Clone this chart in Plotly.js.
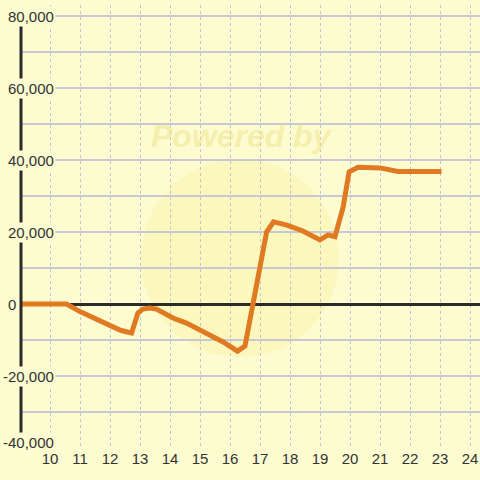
<!DOCTYPE html>
<html>
<head>
<meta charset="utf-8">
<script src="https://cdn.plot.ly/plotly-3.0.1.min.js"></script>
<style>html,body{margin:0;padding:0;background:#fcfcd0;}#chart{width:480px;height:480px;}</style>
</head>
<body>
<div id="chart"></div>
<script>
const xValues = [9.04, 10.55, 11.0, 11.5, 12.0, 12.35, 12.72, 12.93, 13.1, 13.33, 13.55, 14.1, 14.55, 15.2, 15.77, 16.25, 16.5, 17.22, 17.45, 17.9, 18.43, 19.0, 19.27, 19.5, 19.77, 19.97, 20.27, 21.0, 21.25, 21.6, 23.05];
const yValues = [0, 0, -2100, -3900, -5800, -7300, -8050, -2500, -1400, -1100, -1400, -3900, -5300, -8050, -10550, -13100, -11650, 20000, 22800, 21900, 20300, 17800, 19200, 18700, 26900, 36700, 38000, 37800, 37500, 36800, 36800];
const xTicks = [10, 11, 12, 13, 14, 15, 16, 17, 18, 19, 20, 21, 22, 23, 24];
const yTickValues = [80000, 60000, 40000, 20000, 0, -20000, -40000];
const yTickLabels = ['80,000', '60,000', '40,000', '20,000', '0', '-20,000', '-40,000'];

const bg = '#fcfcd0';

const annotations = yTickValues.map((v, i) => ({
  x: v < 0 ? (1 - 21) / 459 : (6 - 21) / 459, y: v, xref: 'paper', yref: 'y',
  xanchor: 'left', yanchor: 'middle',
  text: yTickLabels[i], showarrow: false,
  font: {family: 'Liberation Sans, Arial, sans-serif', size: 15, color: '#333'},
  bgcolor: bg, borderpad: 1,
  yshift: v === -40000 ? 6 : 0
}));
annotations.unshift({
  x: 0.481, y: 0.705, xref: 'paper', yref: 'paper', xanchor: 'center', yanchor: 'middle',
  text: 'Powered by', showarrow: false,
  font: {family: 'Liberation Sans, Arial, sans-serif', size: 32, color: 'rgba(238,222,130,0.45)', weight: 'bold', style: 'italic'}
});

const trace = {
  x: xValues, y: yValues, type: 'scatter', mode: 'lines',
  line: {color: '#e07a22', width: 5},
  hoverinfo: 'skip'
};

const layout = {
  width: 480, height: 480,
  margin: {l: 21, r: 0, t: 5, b: 32, pad: 0},
  paper_bgcolor: bg, plot_bgcolor: bg,
  showlegend: false,
  xaxis: {
    range: [9.0333, 24.3333], tickvals: xTicks, ticktext: xTicks.map(String),
    showgrid: true, gridcolor: '#c4c4cc', gridwidth: 1, griddash: '3px,3px',
    zeroline: false, showline: false, ticks: '',
    tickfont: {family: 'Liberation Sans, Arial, sans-serif', size: 15, color: '#333'}
  },
  yaxis: {
    range: [-40000, 83056], dtick: 10000, tick0: 0,
    showgrid: true, gridcolor: '#c8c8d4', gridwidth: 1.2,
    zeroline: true, zerolinecolor: '#2b2b2b', zerolinewidth: 3,
    showline: false, showticklabels: false, ticks: ''
  },
  shapes: [
    {type: 'circle', xref: 'x', yref: 'y', x0: 13.03, x1: 19.63, y0: -14720, y1: 40280,
     fillcolor: 'rgba(250,232,140,0.28)', line: {width: 0}, layer: 'below'},
    {type: 'line', xref: 'paper', yref: 'y', x0: 0, x1: 0, y0: -40000, y1: 80000,
     line: {color: '#2b2b2b', width: 3}, layer: 'above'}
  ],
  annotations: annotations
};

Plotly.newPlot('chart', [trace], layout, {displayModeBar: false, staticPlot: true});
</script>
</body>
</html>
